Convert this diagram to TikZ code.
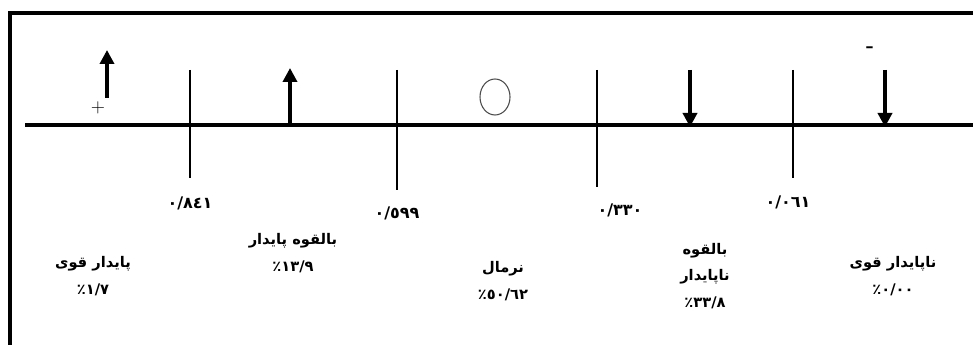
\documentclass[tikz,border=0pt]{standalone}
\usepackage{fontspec}
\newfontfamily\arabicfont[Script=Arabic]{DejaVu Sans}
\TeXXeTstate=1
\usetikzlibrary{arrows.meta,shapes.geometric}

\tikzset{
    axisline/.style={draw, line width=2.6pt},
    tickline/.style={draw, line width=1.4pt},
    bigarrow/.style={draw, line width=2.6pt, -{Triangle[width=10.5pt,length=10.5pt]}},
    valuelabel/.style={font=\arabicfont\bfseries\fontsize{12}{14}\selectfont, inner sep=1pt},
    classlabel/.style={font=\arabicfont\bfseries\fontsize{11}{20}\selectfont, align=center, inner sep=1pt},
    signlabel/.style={font=\fontsize{14}{14}\selectfont, inner sep=0pt}
}

\begin{document}
\begin{tikzpicture}[x=0.75pt, y=-0.75pt]
\useasboundingbox (0,0) rectangle (973,345);
% frame
\draw [line width=3.5pt] (10,345) -- (10,13) -- (973,13);

% axis
\coordinate (AxisL) at (25,125);
\coordinate (AxisR) at (973,125);
\draw [axisline] (AxisL) -- (AxisR);

% cut points
\coordinate (Tick01top) at (190,70);  \coordinate (Tick01bot) at (190,178);
\coordinate (Tick02top) at (397,70);  \coordinate (Tick02bot) at (397,190);
\coordinate (Tick03top) at (597,70);  \coordinate (Tick03bot) at (597,187);
\coordinate (Tick04top) at (793,70);  \coordinate (Tick04bot) at (793,178);
\foreach \t in {01,02,03,04}
  \draw [tickline] (Tick\t top) -- (Tick\t bot);

\node (Value01) [valuelabel] at (190,203) {٠/٨٤١};
\node (Value02) [valuelabel] at (397,213) {٠/٥٩٩};
\node (Value03) [valuelabel] at (620,210) {٠/٣٣٠};
\node (Value04) [valuelabel] at (788,202) {٠/٠٦١};

% arrows
\coordinate (Up01from) at (107,98);   \coordinate (Up01to) at (107,50);
\coordinate (Up02from) at (290,125);  \coordinate (Up02to) at (290,68);
\coordinate (Down01from) at (690,70); \coordinate (Down01to) at (690,127);
\coordinate (Down02from) at (885,70); \coordinate (Down02to) at (885,127);
\draw [bigarrow] (Up01from) -- (Up01to);
\draw [bigarrow] (Up02from) -- (Up02to);
\draw [bigarrow] (Down01from) -- (Down01to);
\draw [bigarrow] (Down02from) -- (Down02to);

\node (Plus) [signlabel] at (98,108) {+};
\node (Minus) [signlabel, font=\bfseries\fontsize{16}{16}\selectfont] at (870,50) {-};
\node (Normal) [draw=black!70, line width=0.8pt, ellipse, minimum width=22.5pt, minimum height=27pt, inner sep=0pt] at (495,97) {};

% classes
\node (Class01) [classlabel] at (93,276) {\beginR پایدار قوی\endR\\١/٧٪};
\node (Class02) [classlabel] at (293,253) {\beginR بالقوه پایدار\endR\\١٣/٩٪};
\node (Class03) [classlabel] at (503,281) {\beginR نرمال\endR\\٥٠/٦٢٪};
\node (Class04) [classlabel] at (705,276) {\beginR بالقوه\endR\\\beginR ناپایدار\endR\\٣٣/٨٪};
\node (Class05) [classlabel] at (893,276) {\beginR ناپایدار قوی\endR\\٠/٠٠٪};
\end{tikzpicture}
\end{document}
